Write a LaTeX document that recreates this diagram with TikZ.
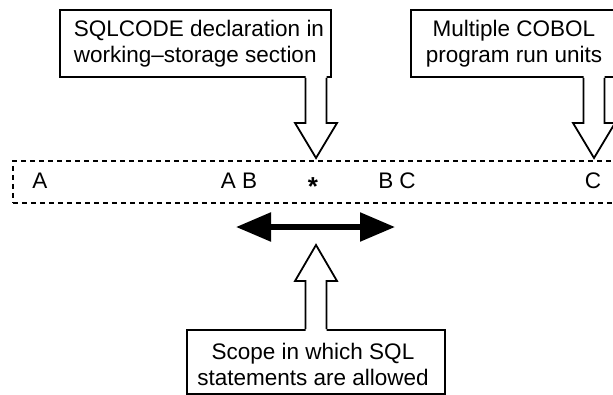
\documentclass[tikz,border=0pt]{standalone}
\usepackage{fontspec}
\setmainfont{Liberation Sans}
\usetikzlibrary{arrows.meta,calc}
\newcommand{\blockarr}[4]{%
  \fill[white] ($(#1|-#2)+(-10.5,#4)$) -- ($(#1)+(-10.5,#3)$) -- ($(#1)+(-21,#3)$) -- (#1) -- ($(#1)+(21,#3)$) -- ($(#1)+(10.5,#3)$) -- ($(#1|-#2)+(10.5,#4)$) -- cycle;
  \draw[blockarrow] ($(#1|-#2)+(-10.5,0)$) -- ($(#1)+(-10.5,#3)$) -- ($(#1)+(-21,#3)$) -- (#1) -- ($(#1)+(21,#3)$) -- ($(#1)+(10.5,#3)$) -- ($(#1|-#2)+(10.5,0)$);}
\begin{document}
\begin{tikzpicture}[x=1pt,y=-1pt,
  boxshape/.style={draw, line width=1.8pt, fill=white, inner sep=0pt, anchor=north west},
  boxtext/.style={inner sep=0pt, font=\fontsize{22.5}{26}\selectfont},
  blockarrow/.style={draw, line width=1.8pt, line join=miter},
  lbl/.style={inner sep=0pt, anchor=base, font=\fontsize{22.5}{26}\selectfont},
  rowbox/.style={draw, dash pattern=on 5pt off 4pt, line width=1.7pt, inner sep=0pt, anchor=north west},
  scopearrow/.style={line width=5.5pt, {Triangle[length=35pt,width=28pt]}-{Triangle[length=35pt,width=28pt]}}]
\useasboundingbox (0,0) rectangle (613,394);
\clip (0,0) rectangle (613,394);
% dashed row
\node[rowbox, minimum width=620pt, minimum height=42pt] (row) at (12,160) {};
% boxes
\node[boxshape, minimum width=271pt, minimum height=67pt] (lbox) at (59,9) {};
\node[boxtext, align=left] (ltext) at (199,44) {SQLCODE declaration in\\working–storage section};
\node[boxshape, minimum width=215pt, minimum height=67pt] (rbox) at (410,9) {};
\node[boxtext, align=center] (rtext) at (514,44) {Multiple COBOL\\program run units};
\node[boxshape, minimum width=258pt, minimum height=64pt] (bbox) at (186,329) {};
\node[boxtext, align=center] (btext) at (313,364) {Scope in which SQL\\statements are allowed};
% tips
\coordinate (t1) at (316,158);
\coordinate (t2) at (594,158);
\coordinate (t3) at (316,245);
\blockarr{t1}{lbox.south}{-35}{-2}
\blockarr{t2}{rbox.south}{-35}{-2}
\blockarr{t3}{bbox.north}{36}{2}
% row labels
\node[lbl] (la) at (40,188) {A};
\node[lbl] (lab) at (239,188) {A B};
\node[lbl, font=\fontsize{26}{30}\selectfont\bfseries] (ls) at (313,195) {*};
\node[lbl] (lbc) at (397,188) {B C};
\node[lbl] (lc) at (593,188) {C};
% scope arrow
\coordinate (dl) at (236,227);
\coordinate (dr) at (395,227);
\draw[scopearrow] (dl) -- (dr);
\end{tikzpicture}
\end{document}
